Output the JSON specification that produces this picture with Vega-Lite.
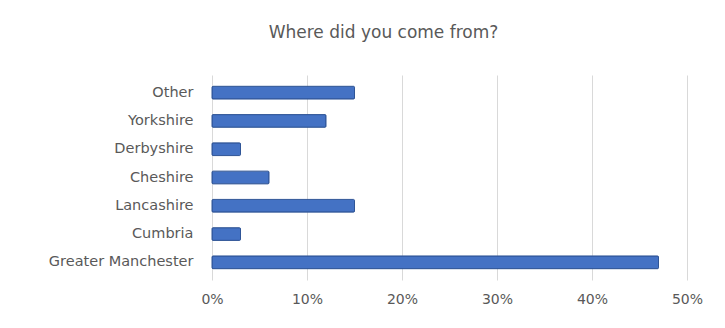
{
  "$schema": "https://vega.github.io/schema/vega-lite/v6.json",
  "width": 475,
  "height": 205,
  "padding": {"left": 42, "top": 24, "right": 10, "bottom": 5},
  "background": "white",
  "title": {
    "text": "Where did you come from?",
    "fontSize": 17,
    "font": "DejaVu Sans",
    "fontWeight": "normal",
    "color": "#595959",
    "anchor": "middle",
    "frame": "group",
    "dx": -66,
    "offset": 33
  },
  "data": {
    "values": [
      {"region": "Other", "share": 0.15},
      {"region": "Yorkshire", "share": 0.12},
      {"region": "Derbyshire", "share": 0.03},
      {"region": "Cheshire", "share": 0.06},
      {"region": "Lancashire", "share": 0.15},
      {"region": "Cumbria", "share": 0.03},
      {"region": "Greater Manchester", "share": 0.47}
    ]
  },
  "mark": {"type": "bar", "color": "#4472C4", "stroke": "#2F5597", "strokeWidth": 1, "cornerRadius": 1},
  "encoding": {
    "y": {
      "field": "region",
      "type": "nominal",
      "sort": null,
      "scale": {"paddingInner": 0.55, "paddingOuter": 0.4},
      "axis": {
        "title": null,
        "ticks": false,
        "domain": false,
        "labelPadding": 19,
        "labelDy": 2,
        "minExtent": 170,
        "maxExtent": 170,
        "labelFont": "DejaVu Sans",
        "labelFontSize": 14.5,
        "labelColor": "#595959"
      }
    },
    "x": {
      "field": "share",
      "type": "quantitative",
      "scale": {"domain": [0, 0.5], "nice": false},
      "axis": {
        "title": null,
        "format": ".0%",
        "values": [0, 0.1, 0.2, 0.3, 0.4, 0.5],
        "ticks": false,
        "domain": false,
        "grid": true,
        "gridColor": "#d9d9d9",
        "labelFlush": false,
        "labelPadding": 12,
        "labelDx": -5,
        "labelFont": "DejaVu Sans",
        "labelFontSize": 14,
        "labelColor": "#595959"
      }
    }
  },
  "config": {"view": {"stroke": null}}
}
